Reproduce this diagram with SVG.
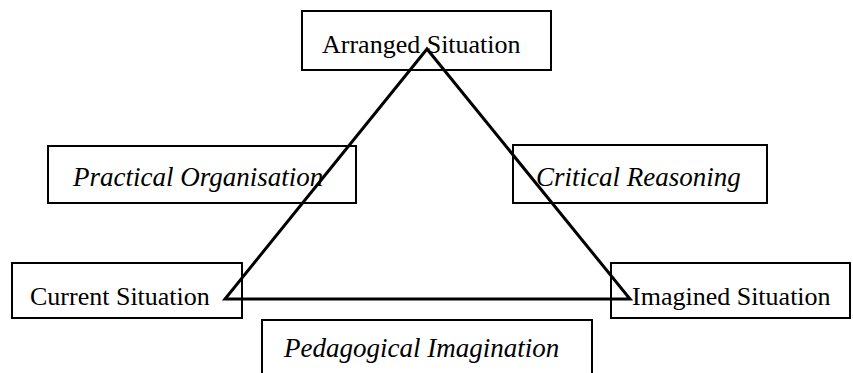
<svg xmlns="http://www.w3.org/2000/svg" width="853" height="373" viewBox="0 0 853 373">
<style>
  .box { fill: #fff; stroke: #000; stroke-width: 2; }
  .lbl { font-family: "Liberation Serif", "Times New Roman", serif; font-size: 26px; fill: #000; }
  .it { font-style: italic; font-size: 27px; }
  .tri { fill: none; stroke: #000; stroke-width: 3; stroke-linejoin: miter; }
</style>
<rect width="853" height="373" fill="#fff"/>
<g id="node-arranged">
  <rect class="box" x="302" y="11" width="249" height="59"/>
  <text class="lbl" x="322" y="53">Arranged Situation</text>
</g>
<g id="node-practical">
  <rect class="box" x="48" y="146" width="308" height="57"/>
  <text class="lbl it" x="73" y="186">Practical Organisation</text>
</g>
<g id="node-critical">
  <rect class="box" x="513" y="145" width="254" height="58"/>
  <text class="lbl it" x="536" y="186">Critical Reasoning</text>
</g>
<g id="node-current">
  <rect class="box" x="12" y="263" width="230" height="55"/>
  <text class="lbl" x="30" y="305">Current Situation</text>
</g>
<g id="node-imagined">
  <rect class="box" x="611" y="263" width="239" height="55"/>
  <text class="lbl" x="632" y="305">Imagined Situation</text>
</g>
<g id="node-pedagogical">
  <rect class="box" x="262" y="320" width="330" height="60"/>
  <text class="lbl it" x="284" y="357">Pedagogical Imagination</text>
</g>
<g id="connectors">
  <polygon class="tri" points="427,49 225,299 630,299"/>
</g>
</svg>
